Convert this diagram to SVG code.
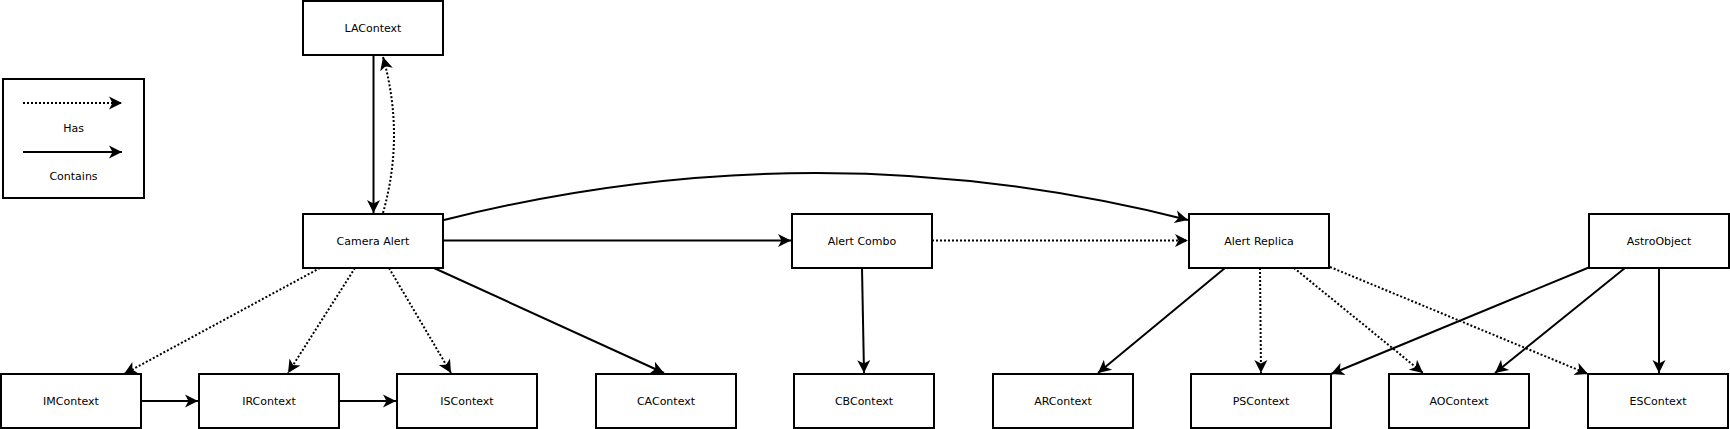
<svg xmlns="http://www.w3.org/2000/svg" width="1730" height="429" viewBox="0 0 1730 429">
<style>
.box{fill:#fff;stroke:#000;stroke-width:2}
.lbl{font-family:"DejaVu Sans",sans-serif;font-size:11px;fill:#000;text-anchor:middle;dominant-baseline:central}
.c{fill:none;stroke:#000;stroke-width:2;marker-end:url(#arr)}
.h{fill:none;stroke:#000;stroke-width:2;stroke-dasharray:2 2;marker-end:url(#arr)}
</style>
<defs>
<marker id="arr" viewBox="0 0 14 14" refX="13.5" refY="7" markerWidth="14" markerHeight="14" markerUnits="userSpaceOnUse" orient="auto">
<path d="M0.5,0.5 L13.5,7 L0.5,13.5 L4,7 Z" fill="#000"/>
</marker>
</defs>
<rect width="1730" height="429" fill="#fff"/>
<g id="legend">
<rect class="box" x="3" y="79" width="141" height="119"/>
<line class="h" x1="23" y1="103" x2="122" y2="103"/>
<text class="lbl" x="73.5" y="128">Has</text>
<line class="c" x1="23" y1="152" x2="122" y2="152"/>
<text class="lbl" x="73.5" y="176.5">Contains</text>
</g>
<g id="connectors">
<line class="c" x1="373.5" y1="55" x2="373.5" y2="213"/>
<path class="h" d="M383,213 Q405,135 383,57"/>
<path class="c" d="M444,220 Q816,126 1188,220"/>
<line class="c" x1="444" y1="240.5" x2="791" y2="240.5"/>
<line class="h" x1="932" y1="240.5" x2="1188" y2="240.5"/>
<line class="c" x1="862" y1="268" x2="864" y2="373"/>
<line class="h" x1="320" y1="268" x2="124" y2="374"/>
<line class="h" x1="355" y1="268" x2="288" y2="373"/>
<line class="h" x1="389" y1="268" x2="451" y2="373"/>
<line class="c" x1="434" y1="268" x2="664" y2="373"/>
<line class="c" x1="141" y1="401" x2="198" y2="401"/>
<line class="c" x1="339" y1="401" x2="396" y2="401"/>
<line class="c" x1="1225" y1="268" x2="1098" y2="373"/>
<line class="h" x1="1260" y1="268" x2="1261" y2="373"/>
<line class="h" x1="1294" y1="268" x2="1423" y2="373"/>
<line class="h" x1="1330" y1="267" x2="1588" y2="374"/>
<line class="c" x1="1590" y1="267" x2="1331" y2="374"/>
<line class="c" x1="1625" y1="268" x2="1495" y2="373"/>
<line class="c" x1="1659" y1="268" x2="1659" y2="373"/>
</g>
<g id="LAContext"><rect class="box" x="303" y="1" width="140" height="54"/><text class="lbl" x="373" y="28">LAContext</text></g>
<g id="CameraAlert"><rect class="box" x="303" y="214" width="140" height="54"/><text class="lbl" x="373" y="241">Camera Alert</text></g>
<g id="AlertCombo"><rect class="box" x="792" y="214" width="140" height="54"/><text class="lbl" x="862" y="241">Alert Combo</text></g>
<g id="AlertReplica"><rect class="box" x="1189" y="214" width="140" height="54"/><text class="lbl" x="1259" y="241">Alert Replica</text></g>
<g id="AstroObject"><rect class="box" x="1589" y="214" width="140" height="54"/><text class="lbl" x="1659" y="241">AstroObject</text></g>
<g id="IMContext"><rect class="box" x="1" y="374" width="140" height="54"/><text class="lbl" x="71" y="401">IMContext</text></g>
<g id="IRContext"><rect class="box" x="199" y="374" width="140" height="54"/><text class="lbl" x="269" y="401">IRContext</text></g>
<g id="ISContext"><rect class="box" x="397" y="374" width="140" height="54"/><text class="lbl" x="467" y="401">ISContext</text></g>
<g id="CAContext"><rect class="box" x="596" y="374" width="140" height="54"/><text class="lbl" x="666" y="401">CAContext</text></g>
<g id="CBContext"><rect class="box" x="794" y="374" width="140" height="54"/><text class="lbl" x="864" y="401">CBContext</text></g>
<g id="ARContext"><rect class="box" x="993" y="374" width="140" height="54"/><text class="lbl" x="1063" y="401">ARContext</text></g>
<g id="PSContext"><rect class="box" x="1191" y="374" width="140" height="54"/><text class="lbl" x="1261" y="401">PSContext</text></g>
<g id="AOContext"><rect class="box" x="1389" y="374" width="140" height="54"/><text class="lbl" x="1459" y="401">AOContext</text></g>
<g id="ESContext"><rect class="box" x="1588" y="374" width="140" height="54"/><text class="lbl" x="1658" y="401">ESContext</text></g>
</svg>
